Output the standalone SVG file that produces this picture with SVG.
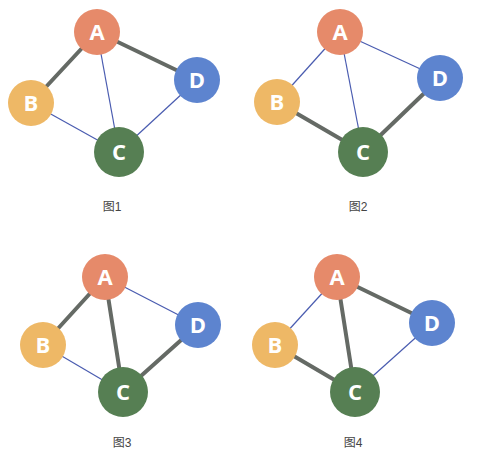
<svg xmlns="http://www.w3.org/2000/svg" width="485" height="458" viewBox="0 0 485 458">
<style>
.thick{stroke:#656a65;stroke-width:4;stroke-linecap:round}
.thin{stroke:#4a5cb0;stroke-width:1.2}
.nA{fill:#e68a6a}
.nB{fill:#eeb866}
.nC{fill:#567f53}
.nD{fill:#5d84cf}
.lt{font-family:"Open Sans","Liberation Sans",sans-serif;font-weight:bold;font-size:22px;fill:#ffffff;text-anchor:middle}
.cap{font-family:"Liberation Sans","Noto Sans CJK SC",sans-serif;font-size:12px;fill:#444444;text-anchor:middle}
</style>
<rect width="485" height="458" fill="#ffffff"/>
<g id="connectors">
<!-- Fig1 -->
<line class="thick" x1="97" y1="32" x2="31" y2="103"/>
<line class="thick" x1="97" y1="32" x2="197" y2="80"/>
<line class="thin" x1="97" y1="32" x2="119" y2="152"/>
<line class="thin" x1="31" y1="103" x2="119" y2="152"/>
<line class="thin" x1="197" y1="80" x2="119" y2="152"/>
<!-- Fig2 -->
<line class="thin" x1="340" y1="32" x2="277" y2="102"/>
<line class="thin" x1="340" y1="32" x2="440" y2="78"/>
<line class="thin" x1="340" y1="32" x2="363" y2="152"/>
<line class="thick" x1="277" y1="102" x2="363" y2="152"/>
<line class="thick" x1="440" y1="78" x2="363" y2="152"/>
<!-- Fig3 -->
<line class="thick" x1="105" y1="277" x2="43" y2="345"/>
<line class="thin" x1="105" y1="277" x2="198" y2="325"/>
<line class="thick" x1="105" y1="277" x2="123" y2="392"/>
<line class="thin" x1="43" y1="345" x2="123" y2="392"/>
<line class="thick" x1="198" y1="325" x2="123" y2="392"/>
<!-- Fig4 -->
<line class="thin" x1="337" y1="277" x2="275" y2="345"/>
<line class="thick" x1="337" y1="277" x2="432" y2="323"/>
<line class="thick" x1="337" y1="277" x2="355" y2="392"/>
<line class="thick" x1="275" y1="345" x2="355" y2="392"/>
<line class="thin" x1="432" y1="323" x2="355" y2="392"/>
</g>
<g id="fig1">
<g id="f1A"><circle class="nA" cx="97" cy="32" r="23"/><text class="lt" x="97" y="40">A</text></g>
<g id="f1B"><circle class="nB" cx="31" cy="103" r="23"/><text class="lt" x="31" y="111">B</text></g>
<g id="f1C"><circle class="nC" cx="119" cy="152" r="25"/><text class="lt" x="119" y="160">C</text></g>
<g id="f1D"><circle class="nD" cx="197" cy="80" r="23"/><text class="lt" x="197" y="88">D</text></g>
<text class="cap" x="112" y="211">图1</text>
</g>
<g id="fig2">
<g id="f2A"><circle class="nA" cx="340" cy="32" r="23"/><text class="lt" x="340" y="40">A</text></g>
<g id="f2B"><circle class="nB" cx="277" cy="102" r="23"/><text class="lt" x="277" y="110">B</text></g>
<g id="f2C"><circle class="nC" cx="363" cy="152" r="25"/><text class="lt" x="363" y="160">C</text></g>
<g id="f2D"><circle class="nD" cx="440" cy="78" r="23"/><text class="lt" x="440" y="86">D</text></g>
<text class="cap" x="358" y="211">图2</text>
</g>
<g id="fig3">
<g id="f3A"><circle class="nA" cx="105" cy="277" r="23"/><text class="lt" x="105" y="285">A</text></g>
<g id="f3B"><circle class="nB" cx="43" cy="345" r="23"/><text class="lt" x="43" y="353">B</text></g>
<g id="f3C"><circle class="nC" cx="123" cy="392" r="25"/><text class="lt" x="123" y="400">C</text></g>
<g id="f3D"><circle class="nD" cx="198" cy="325" r="23"/><text class="lt" x="198" y="333">D</text></g>
<text class="cap" x="122" y="447">图3</text>
</g>
<g id="fig4">
<g id="f4A"><circle class="nA" cx="337" cy="277" r="23"/><text class="lt" x="337" y="285">A</text></g>
<g id="f4B"><circle class="nB" cx="275" cy="345" r="23"/><text class="lt" x="275" y="353">B</text></g>
<g id="f4C"><circle class="nC" cx="355" cy="392" r="25"/><text class="lt" x="355" y="400">C</text></g>
<g id="f4D"><circle class="nD" cx="432" cy="323" r="23"/><text class="lt" x="432" y="331">D</text></g>
<text class="cap" x="353" y="447">图4</text>
</g>
</svg>
